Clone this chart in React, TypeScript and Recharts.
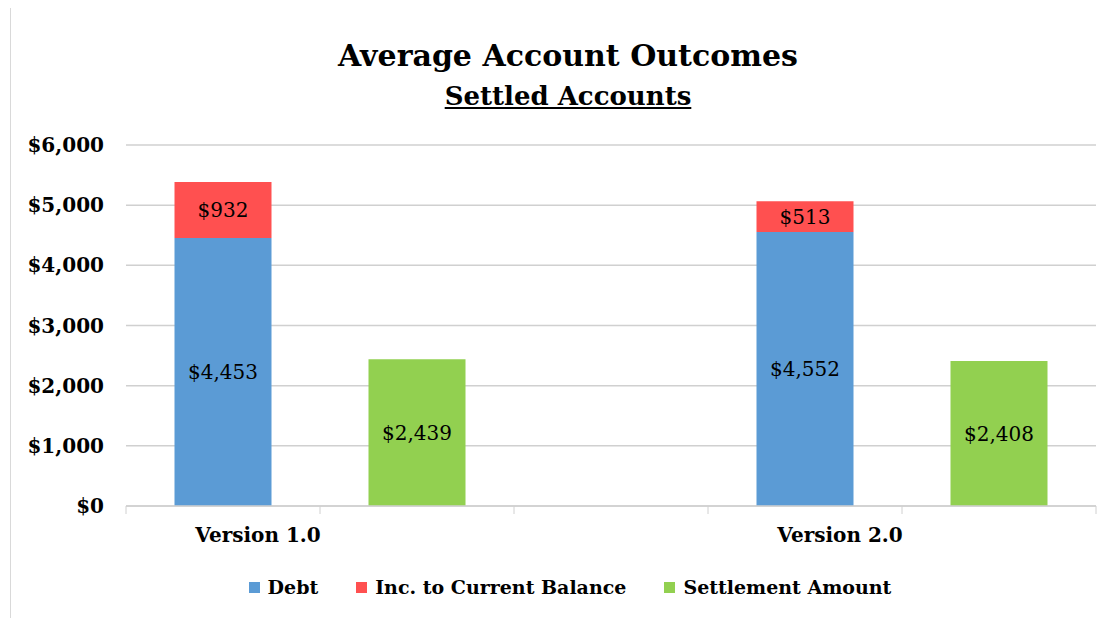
import React from 'react';
import { BarChart, Bar, XAxis, YAxis, CartesianGrid, Legend, LabelList } from 'recharts';

const categories = ['Version 1.0', 'Version 2.0'];
const debt = [4453, 4552];
const increase = [932, 513];
const settlement = [2439, 2408];
const yTicks = [0, 1000, 2000, 3000, 4000, 5000, 6000];

const COLORS = { debt: '#5B9BD5', inc: '#FF5050', settle: '#92D050' };
const FONT = '"DejaVu Serif", serif';

const CHART_W = 1100;
const CHART_H = 618;
const MARGIN = { top: 145, right: 15, bottom: 20, left: 15 };
const Y_AXIS_W = 100;
const SLOTS = categories.length * 2 + (categories.length - 1);
const HALF_BAND = (CHART_W - MARGIN.left - MARGIN.right - Y_AXIS_W) / SLOTS / 2;

// each version gets a slot for the stacked debt bar and one for the settlement bar,
// with an empty slot between versions
const rows = categories.flatMap((name, i) => {
  const out: any[] = [];
  if (i > 0) out.push({ slot: `gap${i}`, label: '' });
  out.push({ slot: `d${i}`, label: name, debt: debt[i], inc: increase[i] });
  out.push({ slot: `s${i}`, label: '', settle: settlement[i] });
  return out;
});

const money = (v: any) => (v == null ? '' : `$${Number(v).toLocaleString('en-US')}`);

function XTick(props: any) {
  const { x, y, index } = props;
  const row = rows[index];
  return (
    <g>
      <line x1={x - HALF_BAND} x2={x - HALF_BAND} y1={y} y2={y + 8} stroke="#d0d0d0" />
      {index === rows.length - 1 && (
        <line x1={x + HALF_BAND} x2={x + HALF_BAND} y1={y} y2={y + 8} stroke="#d0d0d0" />
      )}
      {row && row.label && (
        <text x={x + 35} y={y + 36} textAnchor="middle" fontFamily={FONT} fontWeight="bold" fontSize={20} fill="#000">
          {row.label}
        </text>
      )}
    </g>
  );
}

function LegendContent(props: any) {
  const { payload } = props;
  return (
    <div style={{ display: 'flex', justifyContent: 'center', gap: 38, paddingLeft: 18, fontFamily: FONT, fontWeight: 'bold', fontSize: 19 }}>
      {(payload || []).map((p: any) => (
        <div key={p.value} style={{ display: 'flex', alignItems: 'center' }}>
          <span style={{ display: 'inline-block', width: 11, height: 11, background: p.color, marginRight: 8 }} />
          <span>{p.value}</span>
        </div>
      ))}
    </div>
  );
}

export default function App() {
  return (
    <div style={{ position: 'relative', width: CHART_W, height: CHART_H, marginTop: -8, marginLeft: 2, borderLeft: '1px solid #d9d9d9', borderRight: '1px solid #d9d9d9', boxSizing: 'border-box' }}>
      <div style={{ position: 'absolute', left: 0, top: 36, width: 1114, textAlign: 'center', fontFamily: FONT, fontWeight: 'bold', fontSize: 30, lineHeight: '40px' }}>
        Average Account Outcomes
      </div>
      <div style={{ position: 'absolute', left: 0, top: 78, width: 1114, textAlign: 'center', fontFamily: FONT, fontWeight: 'bold', fontSize: 26, lineHeight: '36px', textDecoration: 'underline' }}>
        Settled Accounts
      </div>
      <BarChart width={CHART_W} height={CHART_H} data={rows} margin={MARGIN} barCategoryGap="25%">
        <CartesianGrid vertical={false} stroke="#d0d0d0" strokeWidth={1.5} />
        <XAxis
          dataKey="slot"
          axisLine={{ stroke: '#d0d0d0', strokeWidth: 1.5 }}
          tickLine={false}
          tickSize={0}
          tickMargin={0}
          height={70}
          interval={0}
          tick={<XTick />}
        />
        <YAxis
          width={Y_AXIS_W}
          domain={[0, 6000]}
          ticks={yTicks}
          axisLine={false}
          tickLine={false}
          tickSize={0}
          tickMargin={22}
          tickFormatter={money}
          tick={{ fontFamily: FONT, fontWeight: 'bold', fontSize: 20, fill: '#000' }}
        />
        <Legend verticalAlign="bottom" content={<LegendContent />} />
        <Bar dataKey="debt" name="Debt" stackId="a" fill={COLORS.debt} isAnimationActive={false}>
          <LabelList dataKey="debt" position="center" formatter={money} fill="#000" fontFamily={FONT} fontSize={20} />
        </Bar>
        <Bar dataKey="inc" name="Inc. to Current Balance" stackId="a" fill={COLORS.inc} isAnimationActive={false}>
          <LabelList dataKey="inc" position="center" formatter={money} fill="#000" fontFamily={FONT} fontSize={20} />
        </Bar>
        <Bar dataKey="settle" name="Settlement Amount" stackId="a" fill={COLORS.settle} isAnimationActive={false}>
          <LabelList dataKey="settle" position="center" formatter={money} fill="#000" fontFamily={FONT} fontSize={20} />
        </Bar>
      </BarChart>
    </div>
  );
}
